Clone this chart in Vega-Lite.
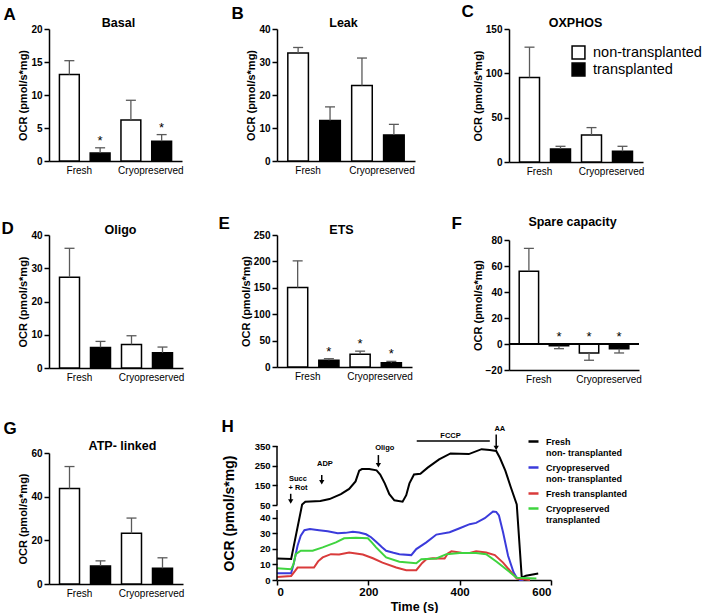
{
"$schema": "https://vega.github.io/schema/vega-lite/v6.json",
"padding": {"left": 1, "top": 2, "right": 5, "bottom": 5},
"config": {
  "font": "Liberation Sans",
  "view": {"stroke": null},
  "axis": {"domainColor": "black", "domainWidth": 1.5, "tickColor": "black", "tickWidth": 1.5, "tickSize": 5, "labelColor": "black", "labelFontSize": 10, "labelFontWeight": "bold", "titleColor": "black", "titleFontSize": 11, "titleFontWeight": "bold", "grid": false, "labelPadding": 2},
  "legend": {"labelColor": "black"}
},
"datasets": {
  "bars": [
    {"panel":"A","bar":"F-non","group":"non-transplanted","value":13.1,"err":15.2,"star":false},
    {"panel":"A","bar":"F-tr","group":"transplanted","value":1.2,"err":2.0,"star":true},
    {"panel":"A","bar":"C-non","group":"non-transplanted","value":6.2,"err":9.2,"star":false},
    {"panel":"A","bar":"C-tr","group":"transplanted","value":3.0,"err":4.0,"star":true},
    {"panel":"B","bar":"F-non","group":"non-transplanted","value":32.7,"err":34.4,"star":false},
    {"panel":"B","bar":"F-tr","group":"transplanted","value":12.3,"err":16.4,"star":false},
    {"panel":"B","bar":"C-non","group":"non-transplanted","value":22.9,"err":31.2,"star":false},
    {"panel":"B","bar":"C-tr","group":"transplanted","value":7.9,"err":11.1,"star":false},
    {"panel":"C","bar":"F-non","group":"non-transplanted","value":95.4,"err":129.5,"star":false},
    {"panel":"C","bar":"F-tr","group":"transplanted","value":14.7,"err":17.7,"star":false},
    {"panel":"C","bar":"C-non","group":"non-transplanted","value":30.5,"err":38.8,"star":false},
    {"panel":"C","bar":"C-tr","group":"transplanted","value":12.1,"err":17.7,"star":false},
    {"panel":"D","bar":"F-non","group":"non-transplanted","value":27.3,"err":36.0,"star":false},
    {"panel":"D","bar":"F-tr","group":"transplanted","value":6.2,"err":8.0,"star":false},
    {"panel":"D","bar":"C-non","group":"non-transplanted","value":7.1,"err":9.7,"star":false},
    {"panel":"D","bar":"C-tr","group":"transplanted","value":4.6,"err":6.3,"star":false},
    {"panel":"E","bar":"F-non","group":"non-transplanted","value":150.6,"err":201,"star":false},
    {"panel":"E","bar":"F-tr","group":"transplanted","value":12.6,"err":15.7,"star":true},
    {"panel":"E","bar":"C-non","group":"non-transplanted","value":24,"err":30,"star":true},
    {"panel":"E","bar":"C-tr","group":"transplanted","value":8,"err":10.7,"star":true},
    {"panel":"F","bar":"F-non","group":"non-transplanted","value":56,"err":73.6,"star":false},
    {"panel":"F","bar":"F-tr","group":"transplanted","value":-1.3,"err":-3.6,"star":true},
    {"panel":"F","bar":"C-non","group":"non-transplanted","value":-6.9,"err":-12.5,"star":true},
    {"panel":"F","bar":"C-tr","group":"transplanted","value":-3.6,"err":-6.9,"star":true},
    {"panel":"G","bar":"F-non","group":"non-transplanted","value":43.7,"err":53.8,"star":false},
    {"panel":"G","bar":"F-tr","group":"transplanted","value":8.2,"err":10.6,"star":false},
    {"panel":"G","bar":"C-non","group":"non-transplanted","value":23.2,"err":30.2,"star":false},
    {"panel":"G","bar":"C-tr","group":"transplanted","value":7.2,"err":12.0,"star":false}
  ],
  "kin": [
    {"s":"FN","t":0,"v":13.8},{"s":"FN","t":31,"v":13.5},{"s":"FN","t":55,"v":52},{"s":"FN","t":62,"v":67},{"s":"FN","t":95,"v":70},{"s":"FN","t":115,"v":80},{"s":"FN","t":140,"v":105},{"s":"FN","t":158,"v":132},{"s":"FN","t":172,"v":170},{"s":"FN","t":180,"v":225},{"s":"FN","t":186,"v":233},{"s":"FN","t":202,"v":233},{"s":"FN","t":218,"v":226},{"s":"FN","t":226,"v":205},{"s":"FN","t":236,"v":160},{"s":"FN","t":246,"v":105},{"s":"FN","t":257,"v":74},{"s":"FN","t":275,"v":67},{"s":"FN","t":283,"v":100},{"s":"FN","t":290,"v":160},{"s":"FN","t":300,"v":205},{"s":"FN","t":314,"v":209},{"s":"FN","t":330,"v":240},{"s":"FN","t":355,"v":282},{"s":"FN","t":380,"v":312},{"s":"FN","t":420,"v":309},{"s":"FN","t":448,"v":334},{"s":"FN","t":466,"v":330},{"s":"FN","t":480,"v":325},{"s":"FN","t":488,"v":290},{"s":"FN","t":500,"v":225},{"s":"FN","t":512,"v":140},{"s":"FN","t":525,"v":53},{"s":"FN","t":536,"v":1.5},{"s":"FN","t":545,"v":2.8},{"s":"FN","t":572,"v":4.2},
    {"s":"CN","t":0,"v":4.3},{"s":"CN","t":31,"v":4.3},{"s":"CN","t":37,"v":11},{"s":"CN","t":45,"v":22},{"s":"CN","t":52,"v":28.5},{"s":"CN","t":60,"v":32},{"s":"CN","t":72,"v":32.8},{"s":"CN","t":92,"v":32},{"s":"CN","t":111,"v":31.3},{"s":"CN","t":133,"v":30},{"s":"CN","t":150,"v":30.3},{"s":"CN","t":166,"v":31},{"s":"CN","t":180,"v":30.5},{"s":"CN","t":195,"v":29.4},{"s":"CN","t":206,"v":27.5},{"s":"CN","t":217,"v":24.6},{"s":"CN","t":230,"v":21},{"s":"CN","t":239,"v":18.8},{"s":"CN","t":255,"v":17.5},{"s":"CN","t":268,"v":16.6},{"s":"CN","t":294,"v":16},{"s":"CN","t":305,"v":19.9},{"s":"CN","t":327,"v":24.2},{"s":"CN","t":349,"v":29.2},{"s":"CN","t":378,"v":30.7},{"s":"CN","t":400,"v":33.3},{"s":"CN","t":422,"v":35.9},{"s":"CN","t":436,"v":36.7},{"s":"CN","t":455,"v":39.7},{"s":"CN","t":473,"v":44},{"s":"CN","t":480,"v":43.8},{"s":"CN","t":486,"v":41.5},{"s":"CN","t":495,"v":30.7},{"s":"CN","t":506,"v":15.6},{"s":"CN","t":518,"v":5},{"s":"CN","t":525,"v":1.5},{"s":"CN","t":532,"v":0},{"s":"CN","t":540,"v":0},
    {"s":"FT","t":0,"v":1.9},{"s":"FT","t":31,"v":2.6},{"s":"FT","t":40,"v":6},{"s":"FT","t":45,"v":8},{"s":"FT","t":81,"v":8},{"s":"FT","t":90,"v":12},{"s":"FT","t":100,"v":14.5},{"s":"FT","t":118,"v":16.6},{"s":"FT","t":136,"v":16.4},{"s":"FT","t":158,"v":17.7},{"s":"FT","t":188,"v":16.4},{"s":"FT","t":210,"v":14},{"s":"FT","t":231,"v":11.2},{"s":"FT","t":261,"v":8},{"s":"FT","t":283,"v":6.3},{"s":"FT","t":305,"v":6.3},{"s":"FT","t":318,"v":11},{"s":"FT","t":327,"v":13.4},{"s":"FT","t":341,"v":14},{"s":"FT","t":367,"v":13.8},{"s":"FT","t":374,"v":17},{"s":"FT","t":382,"v":18.4},{"s":"FT","t":404,"v":17.5},{"s":"FT","t":422,"v":17.3},{"s":"FT","t":436,"v":18.4},{"s":"FT","t":458,"v":17.7},{"s":"FT","t":477,"v":16},{"s":"FT","t":495,"v":11.2},{"s":"FT","t":525,"v":0.9},{"s":"FT","t":554,"v":0},
    {"s":"CT","t":0,"v":7.6},{"s":"CT","t":31,"v":6.9},{"s":"CT","t":36,"v":10},{"s":"CT","t":41,"v":16.6},{"s":"CT","t":52,"v":18.8},{"s":"CT","t":78,"v":18.8},{"s":"CT","t":100,"v":21},{"s":"CT","t":129,"v":24.2},{"s":"CT","t":147,"v":26.8},{"s":"CT","t":173,"v":27.2},{"s":"CT","t":199,"v":26.8},{"s":"CT","t":208,"v":24},{"s":"CT","t":217,"v":21},{"s":"CT","t":239,"v":14.5},{"s":"CT","t":268,"v":11.7},{"s":"CT","t":305,"v":10.8},{"s":"CT","t":316,"v":13.4},{"s":"CT","t":349,"v":13.8},{"s":"CT","t":371,"v":16.6},{"s":"CT","t":400,"v":17.3},{"s":"CT","t":436,"v":17.3},{"s":"CT","t":458,"v":16.6},{"s":"CT","t":481,"v":11.7},{"s":"CT","t":525,"v":1.5},{"s":"CT","t":568,"v":0.9}
  ],
  "ann": [
    {"label":"Succ\n+ Rot","tx":46,"ty":183,"ax":30,"atop":107,"atip":68},
    {"label":"ADP","tx":105,"ty":258,"ax":98,"atop":202,"atip":166},
    {"label":"Oligo","tx":236,"ty":338,"ax":222,"atop":304,"atip":252},
    {"label":"AA","tx":488,"ty":438,"ax":480,"atop":409,"atip":340}
  ],
  "fccp": [{"label":"FCCP","x1":306,"x2":466,"ly":375,"tx":380,"ty":401}]
},
"concat": [
  {
    "width": 133, "height": 132,
    "data": {"name": "bars"}, "transform": [{"filter": "datum.panel === 'A'"}],
    "layer": [
      {"mark": {"type": "bar", "stroke": "black", "strokeWidth": 1.5},
       "encoding": {
         "x": {"field": "bar", "type": "nominal", "sort": ["F-non","F-tr","C-non","C-tr"], "scale": {"paddingInner": 0.355, "paddingOuter": 0.339},
               "axis": {"orient": "bottom", "title": null, "labelAngle": 0, "ticks": false, "labelFontWeight": "normal", "labelFontSize": 10, "labelPadding": 4, "labelOverlap": false, "labelExpr": "datum.value === 'F-non' ? 'Fresh' : datum.value === 'C-non' ? 'Cryopreserved' : ''", "labelOffset": {"condition": {"test": "datum.value === 'F-non'", "value": 10}, "value": 20}}},
         "y": {"field": "value", "type": "quantitative", "scale": {"domain": [0, 20], "nice": false}, "axis": {"values": [0,5,10,15,20], "title": "OCR (pmol/s*mg)", "titlePadding": 2}},
         "fill": {"field": "group", "type": "nominal", "scale": {"domain": ["non-transplanted","transplanted"], "range": ["white","black"]}, "legend": null}
       }},
      {"mark": {"type": "rule", "color": "#5a5a5a", "strokeWidth": 1.3},
       "encoding": {
         "x": {"field": "bar", "type": "nominal", "sort": ["F-non","F-tr","C-non","C-tr"], "axis": {"orient": "top", "title": "Basal", "labels": false, "ticks": false, "domain": false, "titleX": 69, "titleY": -3, "titleAngle": 0, "titleAlign": "center", "titleBaseline": "alphabetic", "titleFontSize": 12.5}},
         "y": {"field": "value", "type": "quantitative", "axis": null}, "y2": {"field": "err"}
       }},
      {"mark": {"type": "tick", "color": "#5a5a5a", "thickness": 1.3, "size": 10, "opacity": 1},
       "encoding": {
         "x": {"field": "bar", "type": "nominal", "sort": ["F-non","F-tr","C-non","C-tr"], "axis": {"orient": "top", "title": "A", "labels": false, "ticks": false, "domain": false, "titleX": -46, "titleY": -10, "titleAngle": 0, "titleAlign": "left", "titleBaseline": "alphabetic", "titleFontSize": 17}},
         "y": {"field": "err", "type": "quantitative", "axis": null}
       }},
      {"transform": [{"filter": "datum.star"}], "mark": {"type": "text", "text": "*", "fontSize": 13, "baseline": "alphabetic", "dy": -3},
       "encoding": {
         "x": {"field": "bar", "type": "nominal", "sort": ["F-non","F-tr","C-non","C-tr"], "axis": null},
         "y": {"field": "err", "type": "quantitative", "axis": null}
       }}
    ],
    "resolve": {"axis": {"x": "independent", "y": "independent"}}
  },
  {
    "width": 138, "height": 132,
    "data": {"name": "bars"}, "transform": [{"filter": "datum.panel === 'B'"}],
    "layer": [
      {"mark": {"type": "bar", "stroke": "black", "strokeWidth": 1.5},
       "encoding": {
         "x": {"field": "bar", "type": "nominal", "sort": ["F-non","F-tr","C-non","C-tr"], "scale": {"paddingInner": 0.355, "paddingOuter": 0.339},
               "axis": {"orient": "bottom", "title": null, "labelAngle": 0, "ticks": false, "labelFontWeight": "normal", "labelFontSize": 10, "labelPadding": 4, "labelOverlap": false, "labelExpr": "datum.value === 'F-non' ? 'Fresh' : datum.value === 'C-non' ? 'Cryopreserved' : ''", "labelOffset": {"condition": {"test": "datum.value === 'F-non'", "value": 10}, "value": 20}}},
         "y": {"field": "value", "type": "quantitative", "scale": {"domain": [0, 40], "nice": false}, "axis": {"values": [0,10,20,30,40], "title": "OCR (pmol/s*mg)", "titlePadding": 2}},
         "fill": {"field": "group", "type": "nominal", "scale": {"domain": ["non-transplanted","transplanted"], "range": ["white","black"]}, "legend": null}
       }},
      {"mark": {"type": "rule", "color": "#5a5a5a", "strokeWidth": 1.3},
       "encoding": {
         "x": {"field": "bar", "type": "nominal", "sort": ["F-non","F-tr","C-non","C-tr"], "axis": {"orient": "top", "title": "Leak", "labels": false, "ticks": false, "domain": false, "titleX": 66, "titleY": -3, "titleAngle": 0, "titleAlign": "center", "titleBaseline": "alphabetic", "titleFontSize": 12.5}},
         "y": {"field": "value", "type": "quantitative", "axis": null}, "y2": {"field": "err"}
       }},
      {"mark": {"type": "tick", "color": "#5a5a5a", "thickness": 1.3, "size": 10, "opacity": 1},
       "encoding": {
         "x": {"field": "bar", "type": "nominal", "sort": ["F-non","F-tr","C-non","C-tr"], "axis": {"orient": "top", "title": "B", "labels": false, "ticks": false, "domain": false, "titleX": -46, "titleY": -11, "titleAngle": 0, "titleAlign": "left", "titleBaseline": "alphabetic", "titleFontSize": 17}},
         "y": {"field": "err", "type": "quantitative", "axis": null}
       }}
    ],
    "resolve": {"axis": {"x": "independent", "y": "independent"}}
  },
  {
    "width": 134, "height": 133,
    "data": {"name": "bars"}, "transform": [{"filter": "datum.panel === 'C'"}],
    "layer": [
      {"mark": {"type": "bar", "stroke": "black", "strokeWidth": 1.5},
       "encoding": {
         "x": {"field": "bar", "type": "nominal", "sort": ["F-non","F-tr","C-non","C-tr"], "scale": {"paddingInner": 0.355, "paddingOuter": 0.339},
               "axis": {"orient": "bottom", "title": null, "labelAngle": 0, "ticks": false, "labelFontWeight": "normal", "labelFontSize": 10, "labelPadding": 4, "labelOverlap": false, "labelExpr": "datum.value === 'F-non' ? 'Fresh' : datum.value === 'C-non' ? 'Cryopreserved' : ''", "labelOffset": {"condition": {"test": "datum.value === 'F-non'", "value": 10}, "value": 20}}},
         "y": {"field": "value", "type": "quantitative", "scale": {"domain": [0, 150], "nice": false}, "axis": {"values": [0,50,100,150], "title": "OCR (pmol/s*mg)", "titlePadding": 2}},
         "fill": {"field": "group", "type": "nominal", "scale": {"domain": ["non-transplanted","transplanted"], "range": ["white","black"]},
                  "legend": {"orient": "none", "legendX": 62, "legendY": 16, "title": null, "symbolType": "square", "symbolSize": 165, "symbolStrokeColor": "black", "symbolStrokeWidth": 1.5, "labelFontSize": 14.5, "labelFontWeight": "normal", "labelOffset": 7, "rowPadding": -2, "padding": 0}}
       }},
      {"mark": {"type": "rule", "color": "#5a5a5a", "strokeWidth": 1.3},
       "encoding": {
         "x": {"field": "bar", "type": "nominal", "sort": ["F-non","F-tr","C-non","C-tr"], "axis": {"orient": "top", "title": "OXPHOS", "labels": false, "ticks": false, "domain": false, "titleX": 66, "titleY": -3, "titleAngle": 0, "titleAlign": "center", "titleBaseline": "alphabetic", "titleFontSize": 12.5}},
         "y": {"field": "value", "type": "quantitative", "axis": null}, "y2": {"field": "err"}
       }},
      {"mark": {"type": "tick", "color": "#5a5a5a", "thickness": 1.3, "size": 10, "opacity": 1},
       "encoding": {
         "x": {"field": "bar", "type": "nominal", "sort": ["F-non","F-tr","C-non","C-tr"], "axis": {"orient": "top", "title": "C", "labels": false, "ticks": false, "domain": false, "titleX": -48, "titleY": -13, "titleAngle": 0, "titleAlign": "left", "titleBaseline": "alphabetic", "titleFontSize": 17}},
         "y": {"field": "err", "type": "quantitative", "axis": null}
       }}
    ],
    "resolve": {"axis": {"x": "independent", "y": "independent"}}
  },
  {
    "width": 134, "height": 133,
    "data": {"name": "bars"}, "transform": [{"filter": "datum.panel === 'D'"}],
    "layer": [
      {"mark": {"type": "bar", "stroke": "black", "strokeWidth": 1.5},
       "encoding": {
         "x": {"field": "bar", "type": "nominal", "sort": ["F-non","F-tr","C-non","C-tr"], "scale": {"paddingInner": 0.355, "paddingOuter": 0.339},
               "axis": {"orient": "bottom", "title": null, "labelAngle": 0, "ticks": false, "labelFontWeight": "normal", "labelFontSize": 10, "labelPadding": 4, "labelOverlap": false, "labelExpr": "datum.value === 'F-non' ? 'Fresh' : datum.value === 'C-non' ? 'Cryopreserved' : ''", "labelOffset": {"condition": {"test": "datum.value === 'F-non'", "value": 10}, "value": 20}}},
         "y": {"field": "value", "type": "quantitative", "scale": {"domain": [0, 40], "nice": false}, "axis": {"values": [0,10,20,30,40], "title": "OCR (pmol/s*mg)", "titlePadding": 2}},
         "fill": {"field": "group", "type": "nominal", "scale": {"domain": ["non-transplanted","transplanted"], "range": ["white","black"]}, "legend": null}
       }},
      {"mark": {"type": "rule", "color": "#5a5a5a", "strokeWidth": 1.3},
       "encoding": {
         "x": {"field": "bar", "type": "nominal", "sort": ["F-non","F-tr","C-non","C-tr"], "axis": {"orient": "top", "title": "Oligo", "labels": false, "ticks": false, "domain": false, "titleX": 71, "titleY": -2, "titleAngle": 0, "titleAlign": "center", "titleBaseline": "alphabetic", "titleFontSize": 12.5}},
         "y": {"field": "value", "type": "quantitative", "axis": null}, "y2": {"field": "err"}
       }},
      {"mark": {"type": "tick", "color": "#5a5a5a", "thickness": 1.3, "size": 10, "opacity": 1},
       "encoding": {
         "x": {"field": "bar", "type": "nominal", "sort": ["F-non","F-tr","C-non","C-tr"], "axis": {"orient": "top", "title": "D", "labels": false, "ticks": false, "domain": false, "titleX": -48, "titleY": -2, "titleAngle": 0, "titleAlign": "left", "titleBaseline": "alphabetic", "titleFontSize": 17}},
         "y": {"field": "err", "type": "quantitative", "axis": null}
       }}
    ],
    "resolve": {"axis": {"x": "independent", "y": "independent"}}
  },
  {
    "width": 135, "height": 132,
    "data": {"name": "bars"}, "transform": [{"filter": "datum.panel === 'E'"}],
    "layer": [
      {"mark": {"type": "bar", "stroke": "black", "strokeWidth": 1.5},
       "encoding": {
         "x": {"field": "bar", "type": "nominal", "sort": ["F-non","F-tr","C-non","C-tr"], "scale": {"paddingInner": 0.355, "paddingOuter": 0.339},
               "axis": {"orient": "bottom", "title": null, "labelAngle": 0, "ticks": false, "labelFontWeight": "normal", "labelFontSize": 10, "labelPadding": 4, "labelOverlap": false, "labelExpr": "datum.value === 'F-non' ? 'Fresh' : datum.value === 'C-non' ? 'Cryopreserved' : ''", "labelOffset": {"condition": {"test": "datum.value === 'F-non'", "value": 10}, "value": 20}}},
         "y": {"field": "value", "type": "quantitative", "scale": {"domain": [0, 250], "nice": false}, "axis": {"values": [0,50,100,150,200,250], "title": "OCR (pmol/s*mg)", "titlePadding": 2}},
         "fill": {"field": "group", "type": "nominal", "scale": {"domain": ["non-transplanted","transplanted"], "range": ["white","black"]}, "legend": null}
       }},
      {"mark": {"type": "rule", "color": "#5a5a5a", "strokeWidth": 1.3},
       "encoding": {
         "x": {"field": "bar", "type": "nominal", "sort": ["F-non","F-tr","C-non","C-tr"], "axis": {"orient": "top", "title": "ETS", "labels": false, "ticks": false, "domain": false, "titleX": 64, "titleY": -2, "titleAngle": 0, "titleAlign": "center", "titleBaseline": "alphabetic", "titleFontSize": 12.5}},
         "y": {"field": "value", "type": "quantitative", "axis": null}, "y2": {"field": "err"}
       }},
      {"mark": {"type": "tick", "color": "#5a5a5a", "thickness": 1.3, "size": 10, "opacity": 1},
       "encoding": {
         "x": {"field": "bar", "type": "nominal", "sort": ["F-non","F-tr","C-non","C-tr"], "axis": {"orient": "top", "title": "E", "labels": false, "ticks": false, "domain": false, "titleX": -59, "titleY": -7, "titleAngle": 0, "titleAlign": "left", "titleBaseline": "alphabetic", "titleFontSize": 17}},
         "y": {"field": "err", "type": "quantitative", "axis": null}
       }},
      {"transform": [{"filter": "datum.star"}], "mark": {"type": "text", "text": "*", "fontSize": 13, "baseline": "alphabetic", "dy": -3},
       "encoding": {
         "x": {"field": "bar", "type": "nominal", "sort": ["F-non","F-tr","C-non","C-tr"], "axis": null},
         "y": {"field": "err", "type": "quantitative", "axis": null}
       }}
    ],
    "resolve": {"axis": {"x": "independent", "y": "independent"}}
  },
  {
    "width": 130, "height": 135,
    "data": {"name": "bars"}, "transform": [{"filter": "datum.panel === 'F'"}],
    "layer": [
      {"mark": {"type": "bar", "stroke": "black", "strokeWidth": 1.5},
       "encoding": {
         "x": {"field": "bar", "type": "nominal", "sort": ["F-non","F-tr","C-non","C-tr"], "scale": {"paddingInner": 0.355, "paddingOuter": 0.339},
               "axis": {"orient": "bottom", "title": null, "labelAngle": 0, "ticks": false, "labelFontWeight": "normal", "labelFontSize": 10, "labelPadding": 4, "labelOverlap": false, "labelExpr": "datum.value === 'F-non' ? 'Fresh' : datum.value === 'C-non' ? 'Cryopreserved' : ''", "labelOffset": {"condition": {"test": "datum.value === 'F-non'", "value": 10}, "value": 20}}},
         "y": {"field": "value", "type": "quantitative", "scale": {"domain": [-20, 80], "range": [135, 5], "nice": false}, "axis": {"values": [-20,0,20,40,60,80], "title": "OCR (pmol/s*mg)", "titlePadding": 2}},
         "fill": {"field": "group", "type": "nominal", "scale": {"domain": ["non-transplanted","transplanted"], "range": ["white","black"]}, "legend": null}
       }},
      {"mark": {"type": "rule", "color": "#5a5a5a", "strokeWidth": 1.3},
       "encoding": {
         "x": {"field": "bar", "type": "nominal", "sort": ["F-non","F-tr","C-non","C-tr"], "axis": {"orient": "top", "title": "Spare capacity", "labels": false, "ticks": false, "domain": false, "titleX": 63, "titleY": -10, "titleAngle": 0, "titleAlign": "center", "titleBaseline": "alphabetic", "titleFontSize": 12.5}},
         "y": {"field": "value", "type": "quantitative", "axis": null}, "y2": {"field": "err"}
       }},
      {"mark": {"type": "tick", "color": "#5a5a5a", "thickness": 1.3, "size": 10, "opacity": 1},
       "encoding": {
         "x": {"field": "bar", "type": "nominal", "sort": ["F-non","F-tr","C-non","C-tr"], "axis": {"orient": "top", "title": "F", "labels": false, "ticks": false, "domain": false, "titleX": -58, "titleY": -7, "titleAngle": 0, "titleAlign": "left", "titleBaseline": "alphabetic", "titleFontSize": 17}},
         "y": {"field": "err", "type": "quantitative", "axis": null}
       }},
      {"mark": {"type": "rule", "color": "black", "strokeWidth": 1.5},
       "encoding": {"y": {"datum": 0, "axis": null}}},
      {"transform": [{"filter": "datum.star"}], "mark": {"type": "text", "text": "*", "fontSize": 13, "baseline": "alphabetic", "dy": -3},
       "encoding": {
         "x": {"field": "bar", "type": "nominal", "sort": ["F-non","F-tr","C-non","C-tr"], "axis": null},
         "y": {"datum": 0, "axis": null}
       }}
    ],
    "resolve": {"axis": {"x": "independent", "y": "independent"}}
  },
  {
    "width": 134, "height": 141,
    "data": {"name": "bars"}, "transform": [{"filter": "datum.panel === 'G'"}],
    "layer": [
      {"mark": {"type": "bar", "stroke": "black", "strokeWidth": 1.5},
       "encoding": {
         "x": {"field": "bar", "type": "nominal", "sort": ["F-non","F-tr","C-non","C-tr"], "scale": {"paddingInner": 0.355, "paddingOuter": 0.339},
               "axis": {"orient": "bottom", "title": null, "labelAngle": 0, "ticks": false, "labelFontWeight": "normal", "labelFontSize": 10, "labelPadding": 4, "labelOverlap": false, "labelExpr": "datum.value === 'F-non' ? 'Fresh' : datum.value === 'C-non' ? 'Cryopreserved' : ''", "labelOffset": {"condition": {"test": "datum.value === 'F-non'", "value": 10}, "value": 20}}},
         "y": {"field": "value", "type": "quantitative", "scale": {"domain": [0, 60], "range": [141, 10], "nice": false}, "axis": {"values": [0,20,40,60], "title": "OCR (pmol/s*mg)", "titlePadding": 2}},
         "fill": {"field": "group", "type": "nominal", "scale": {"domain": ["non-transplanted","transplanted"], "range": ["white","black"]}, "legend": null}
       }},
      {"mark": {"type": "rule", "color": "#5a5a5a", "strokeWidth": 1.3},
       "encoding": {
         "x": {"field": "bar", "type": "nominal", "sort": ["F-non","F-tr","C-non","C-tr"], "axis": {"orient": "top", "title": "ATP- linked", "labels": false, "ticks": false, "domain": false, "titleX": 73, "titleY": 6, "titleAngle": 0, "titleAlign": "center", "titleBaseline": "alphabetic", "titleFontSize": 12.5}},
         "y": {"field": "value", "type": "quantitative", "axis": null}, "y2": {"field": "err"}
       }},
      {"mark": {"type": "tick", "color": "#5a5a5a", "thickness": 1.3, "size": 10, "opacity": 1},
       "encoding": {
         "x": {"field": "bar", "type": "nominal", "sort": ["F-non","F-tr","C-non","C-tr"], "axis": {"orient": "top", "title": "G", "labels": false, "ticks": false, "domain": false, "titleX": -46, "titleY": -10, "titleAngle": 0, "titleAlign": "left", "titleBaseline": "alphabetic", "titleFontSize": 17}},
         "y": {"field": "err", "type": "quantitative", "axis": null}
       }}
    ],
    "resolve": {"axis": {"x": "independent", "y": "independent"}}
  },
  {
    "width": 135, "height": 137,
    "layer": [
      {"data": {"name": "kin"},
       "mark": {"type": "line", "strokeWidth": 2},
       "encoding": {
         "x": {"field": "t", "type": "quantitative", "scale": {"domain": [0, 600], "range": [0, 274], "nice": false}, "axis": {"orient": "bottom", "values": [0,200,400,600], "title": "Time (s)", "titleFontSize": 12.5, "labelFontSize": 11.5, "titlePadding": 3, "labelPadding": 1}},
         "y": {"field": "v", "type": "quantitative", "scale": {"domain": [0, 45, 50, 350], "range": [137, 67, 62, 3], "nice": false, "zero": false}, "axis": {"values": [0,10,20,30,40,50,150,250,350], "domain": false, "title": "OCR (pmol/s*mg)", "titleFontSize": 14, "titleX": -41, "titleY": 70, "labelFontSize": 9.5}},
         "stroke": {"field": "s", "type": "nominal", "scale": {"domain": ["FN","CN","FT","CT"], "range": ["#000000","#3b3bdb","#d93b3b","#3fd43f"]},
                    "legend": {"orient": "none", "legendX": 250, "legendY": -8, "title": null, "symbolType": "stroke", "symbolStrokeWidth": 2.5, "symbolSize": 100, "labelFontSize": 9, "labelFontWeight": "bold", "labelOffset": 6, "rowPadding": 3, "padding": 0, "labelLimit": 0,
                               "labelExpr": "datum.label === 'FN' ? ['Fresh', 'non- transplanted'] : datum.label === 'CN' ? ['Cryopreserved', 'non- transplanted'] : datum.label === 'FT' ? 'Fresh transplanted' : ['Cryopreserved', 'transplanted']"}}
       }},
      {"data": {"values": [{"a": 0, "b": 45}, {"a": 50, "b": 350}]},
       "mark": {"type": "rule", "color": "black", "strokeWidth": 1.5},
       "encoding": {"x": {"datum": 0, "axis": null}, "y": {"field": "a", "type": "quantitative", "axis": null}, "y2": {"field": "b"}}},
      {"data": {"name": "ann"},
       "mark": {"type": "rule", "color": "black", "strokeWidth": 1.5},
       "encoding": {
         "x": {"field": "ax", "type": "quantitative", "axis": {"orient": "top", "title": "H", "labels": false, "ticks": false, "domain": false, "titleX": -56, "titleY": -12, "titleAngle": 0, "titleAlign": "left", "titleBaseline": "alphabetic", "titleFontSize": 17}},
         "y": {"field": "atop", "type": "quantitative", "axis": null}, "y2": {"field": "atip"}
       }},
      {"data": {"name": "ann"},
       "mark": {"type": "point", "shape": "triangle-down", "filled": true, "color": "black", "size": 28, "opacity": 1},
       "encoding": {
         "x": {"field": "ax", "type": "quantitative", "axis": null},
         "y": {"field": "atip", "type": "quantitative", "axis": null}
       }},
      {"data": {"name": "ann"},
       "mark": {"type": "text", "fontSize": 7.5, "fontWeight": "bold", "lineBreak": "\n", "lineHeight": 9, "baseline": "middle", "align": "center"},
       "encoding": {
         "x": {"field": "tx", "type": "quantitative", "axis": null},
         "y": {"field": "ty", "type": "quantitative", "axis": null},
         "text": {"field": "label"}
       }},
      {"data": {"name": "fccp"},
       "mark": {"type": "rule", "color": "black", "strokeWidth": 1.5},
       "encoding": {
         "x": {"field": "x1", "type": "quantitative", "axis": null}, "x2": {"field": "x2"},
         "y": {"field": "ly", "type": "quantitative", "axis": null}
       }},
      {"data": {"name": "fccp"},
       "mark": {"type": "text", "fontSize": 7.5, "fontWeight": "bold", "baseline": "middle", "align": "center"},
       "encoding": {
         "x": {"field": "tx", "type": "quantitative", "axis": null},
         "y": {"field": "ty", "type": "quantitative", "axis": null},
         "text": {"field": "label"}
       }}
    ],
    "resolve": {"axis": {"x": "independent", "y": "independent"}}
  }
],
"columns": 3,
"spacing": {"row": 73, "column": 94},
"bounds": "flush",
"align": "each",
"resolve": {"scale": {"fill": "independent", "stroke": "independent"}, "legend": {"fill": "independent", "stroke": "independent"}}
}
